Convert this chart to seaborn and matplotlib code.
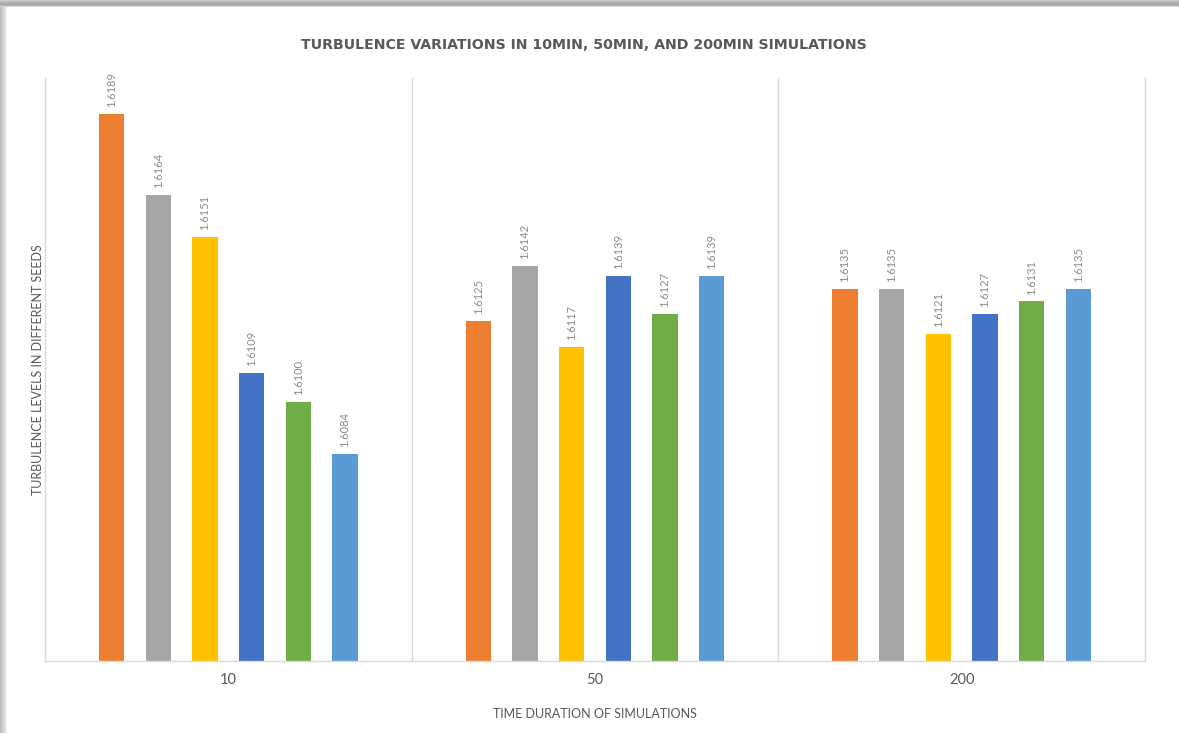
import matplotlib
matplotlib.use("Agg")
import matplotlib.pyplot as plt
from matplotlib.patches import Rectangle
import seaborn as sns
import pandas as pd

# Simulation durations (minutes) and turbulence level for each seed
durations = ["10", "50", "200"]
seed_names = ["Seed 1", "Seed 2", "Seed 3", "Seed 4", "Seed 5", "Seed 6"]
seed_1 = [1.6189, 1.6125, 1.6135]
seed_2 = [1.6164, 1.6142, 1.6135]
seed_3 = [1.6151, 1.6117, 1.6121]
seed_4 = [1.6109, 1.6139, 1.6127]
seed_5 = [1.6100, 1.6127, 1.6131]
seed_6 = [1.6084, 1.6139, 1.6135]
seed_colors = ["#ED7D31", "#A5A5A5", "#FFC000", "#4472C4", "#70AD47", "#5B9BD5"]

series = [seed_1, seed_2, seed_3, seed_4, seed_5, seed_6]
rows = []
for name, vals in zip(seed_names, series):
    for d, v in zip(durations, vals):
        rows.append({"duration": d, "seed": name, "turbulence": v})
df = pd.DataFrame(rows)

sns.set_theme(style="white")
plt.rcParams["font.family"] = ["Lato", "DejaVu Sans"]

W, H = 1179, 733
fig = plt.figure(figsize=(W / 100, H / 100), dpi=100)
fig.patch.set_facecolor("white")
ax = fig.add_axes([45 / W, (H - 661) / H, 1100 / W, (661 - 78) / H])

sns.barplot(
    data=df, x="duration", y="turbulence", hue="seed",
    order=durations, hue_order=seed_names, palette=seed_colors,
    width=0.764, gap=0.46, errorbar=None, legend=False, ax=ax,
    saturation=1, linewidth=0,
)

ax.set_ylim(1.602, 1.620)
ax.set_xlim(-0.5, 2.5)
ax.set_yticks([])

# separators between duration groups
for xb in (0.5, 1.5):
    ax.axvline(xb, color="#D9D9D9", lw=1, zorder=0)

for side in ("left", "right", "bottom"):
    ax.spines[side].set_color("#D9D9D9")
    ax.spines[side].set_linewidth(1)
ax.spines["top"].set_visible(False)

for cont in ax.containers:
    ax.bar_label(cont, fmt="%.4f", rotation=90, padding=5,
                 fontsize=8, color="#8a8a8a")

ax.tick_params(axis="x", length=0, pad=9, labelsize=10.5, labelcolor="#595959")
ax.set_xlabel("TIME DURATION OF SIMULATIONS", fontsize=9, color="#595959", labelpad=15)
ax.set_ylabel("TURBULENCE LEVELS IN DIFFERENT SEEDS", fontsize=9, color="#595959", labelpad=1)

fig.text(584 / W, (H - 45) / H, "TURBULENCE VARIATIONS IN 10MIN, 50MIN, AND 200MIN SIMULATIONS",
         ha="center", va="center", fontsize=10.2, fontweight="bold", color="#595959",
         family=["DejaVu Sans"])

# soft shadow along the top and left edges of the card
for i, c in enumerate(["#c8c8c8", "#bdbdbd", "#b3b3b3", "#aaaaaa", "#a8a8a8", "#b5b5b5", "#d5d5d5"]):
    fig.patches.append(Rectangle((0, (H - i - 1) / H), 1, 1 / H, transform=fig.transFigure,
                                 facecolor=c, edgecolor="none", zorder=0))
for i, c in enumerate(["#bdbdbd", "#c4c4c4", "#cbcbcb", "#d2d2d2", "#dadada", "#e4e4e4", "#f0f0f0"]):
    fig.patches.append(Rectangle((i / W, 0), 1 / W, (H - 7) / H, transform=fig.transFigure,
                                 facecolor=c, edgecolor="none", zorder=0))

fig.savefig("out.png", dpi=100, facecolor="white")
